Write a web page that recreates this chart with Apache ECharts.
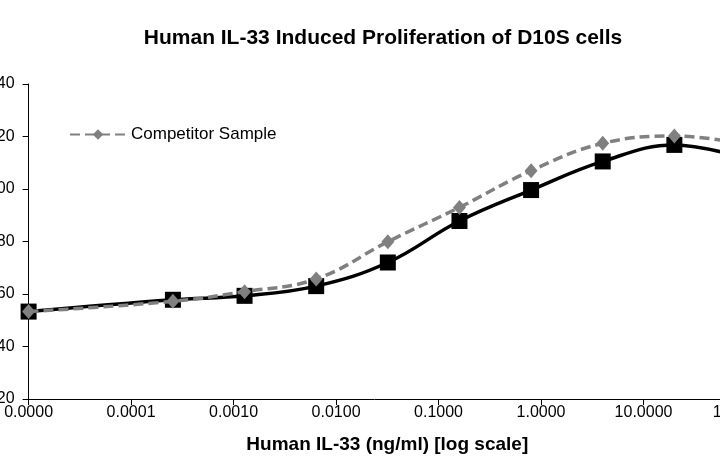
<!DOCTYPE html>
<html>
<head>
    <meta charset="utf-8">
    <title>Human IL-33 Induced Proliferation of D10S cells</title>
    <script src="https://cdn.jsdelivr.net/npm/echarts@6/dist/echarts.min.js"></script>
    <style>
        html, body { margin: 0; padding: 0; background: #fff; }
        #main { width: 720px; height: 466px; }
    </style>
</head>
<body>
<div id="main"></div>
<script type="text/javascript">
    // concentration (ng/ml), 1:5 dilutions; the zero point is drawn at 0.00001
    var doses = [0.00001, 0.000256, 0.00128, 0.0064, 0.032, 0.16, 0.8, 4, 20, 100];
    var mainValues = [53.3, 57.8, 59.3, 63.0, 72.0, 87.8, 99.6, 110.5, 116.8, 111.5];
    var competitorValues = [53.3, 57.2, 60.9, 65.7, 79.9, 93.0, 107.0, 117.4, 120.2, 117.0];
    var yTicks = { min: 20, max: 140, step: 20 };

    function pairs(xs, ys) {
        var out = [];
        for (var i = 0; i < xs.length; i++) out.push([xs[i], ys[i]]);
        return out;
    }

    var myChart = echarts.init(document.getElementById('main'), null, { renderer: 'canvas' });
    var font = '"Liberation Sans", Arial, sans-serif';

    var option = {
        backgroundColor: '#fff',
        animation: false,
        textStyle: { fontFamily: font },
        title: {
            text: 'Human IL-33 Induced Proliferation of D10S cells',
            left: 378,
            textAlign: 'center',
            top: 23,
            textStyle: { fontFamily: font, fontSize: 21, fontWeight: 'bold', color: '#000' }
        },
        legend: {
            data: ['Competitor Sample'],
            left: 64,
            top: 121,
            itemWidth: 56,
            itemHeight: 13,
            itemGap: 6,
            textStyle: { fontFamily: font, fontSize: 17, color: '#000' }
        },
        grid: { left: 28.6, top: 84, width: 717.4, height: 315, containLabel: false, outerBoundsMode: 'none' },
        xAxis: {
            type: 'log',
            logBase: 10,
            min: 0.00001,
            max: 100,
            splitNumber: 8,
            name: 'Human IL-33 (ng/ml) [log scale]',
            nameLocation: 'middle',
            nameGap: 36,
            nameTextStyle: { fontFamily: font, fontSize: 19, fontWeight: 'bold', color: '#000' },
            axisLine: { lineStyle: { color: '#000', width: 1 } },
            axisTick: { show: true, length: 6, lineStyle: { color: '#000' } },
            axisLabel: {
                color: '#000', fontSize: 16, fontFamily: font, margin: 6,
                formatter: function (v) { return v.toFixed(4); }
            },
            splitLine: { show: false },
            minorTick: { show: false }
        },
        yAxis: {
            type: 'value',
            min: yTicks.min,
            max: yTicks.max,
            interval: yTicks.step,
            axisLine: { show: true, lineStyle: { color: '#000', width: 1 } },
            axisTick: { show: true, length: 6, lineStyle: { color: '#000' } },
            axisLabel: { color: '#000', fontSize: 16, fontFamily: font, margin: 14 },
            splitLine: { show: false }
        },
        series: [
            {
                name: 'Human IL-33',
                type: 'line',
                data: pairs(doses, mainValues),
                smooth: 0.4,
                symbol: 'rect',
                symbolSize: 16,
                itemStyle: { color: '#000' },
                lineStyle: { color: '#000', width: 3.5 },
                z: 2
            },
            {
                name: 'Competitor Sample',
                type: 'line',
                data: pairs(doses, competitorValues),
                smooth: 0.4,
                symbol: 'diamond',
                symbolSize: [13, 15],
                itemStyle: { color: '#808080' },
                lineStyle: { color: '#808080', width: 3.5, type: [10, 5] },
                z: 3
            }
        ]
    };

    myChart.setOption(option);
    window.addEventListener('resize', myChart.resize);
</script>
</body>
</html>
